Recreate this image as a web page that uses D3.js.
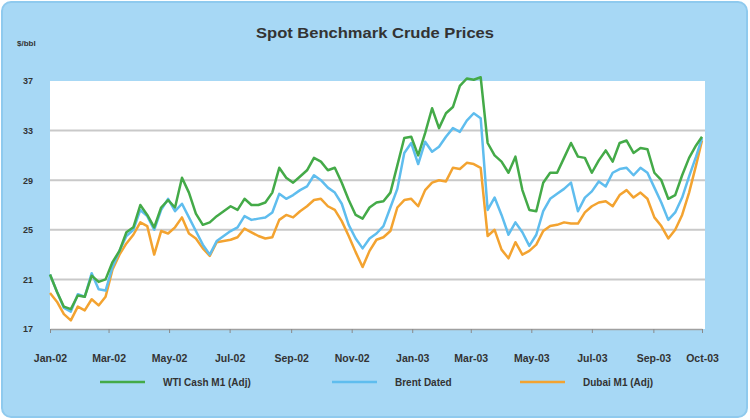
<!DOCTYPE html>
<html><head><meta charset="utf-8">
<script src="https://cdn.jsdelivr.net/npm/d3@7"></script>
<style>body{margin:0;background:#fff}svg{display:block}</style>
</head><body><svg id="c" width="750" height="420"></svg>
<script>
const dates = ["2002-01-01","2002-01-08","2002-01-15","2002-01-22","2002-01-29","2002-02-05","2002-02-12","2002-02-19","2002-02-26","2002-03-05","2002-03-12","2002-03-19","2002-03-26","2002-04-02","2002-04-09","2002-04-16","2002-04-23","2002-04-30","2002-05-07","2002-05-14","2002-05-21","2002-05-28","2002-06-04","2002-06-11","2002-06-18","2002-06-25","2002-07-02","2002-07-09","2002-07-16","2002-07-23","2002-07-30","2002-08-06","2002-08-13","2002-08-20","2002-08-27","2002-09-03","2002-09-10","2002-09-17","2002-09-24","2002-10-01","2002-10-08","2002-10-15","2002-10-22","2002-10-29","2002-11-05","2002-11-12","2002-11-19","2002-11-26","2002-12-03","2002-12-10","2002-12-17","2002-12-24","2002-12-31","2003-01-07","2003-01-14","2003-01-21","2003-01-28","2003-02-04","2003-02-11","2003-02-18","2003-02-25","2003-03-04","2003-03-11","2003-03-18","2003-03-25","2003-04-01","2003-04-08","2003-04-15","2003-04-22","2003-04-29","2003-05-06","2003-05-13","2003-05-20","2003-05-27","2003-06-03","2003-06-10","2003-06-17","2003-06-24","2003-07-01","2003-07-08","2003-07-15","2003-07-22","2003-07-29","2003-08-05","2003-08-12","2003-08-19","2003-08-26","2003-09-02","2003-09-09","2003-09-16","2003-09-23","2003-09-30","2003-10-07","2003-10-14","2003-10-20"];
const wti = [21.4,20.0,18.8,18.6,19.7,19.6,21.3,20.8,21.0,22.4,23.3,24.8,25.2,27.0,26.2,25.2,26.8,27.4,26.8,29.2,28.0,26.3,25.4,25.6,26.1,26.5,26.9,26.6,27.5,27.0,27.0,27.2,28.0,30.0,29.2,28.8,29.3,29.8,30.8,30.5,29.8,30.0,28.8,27.4,26.2,25.9,26.8,27.2,27.3,28.0,30.2,32.4,32.5,31.0,32.8,34.8,33.2,34.4,34.9,36.6,37.2,37.1,37.3,32.0,31.0,30.5,29.6,30.9,28.2,26.6,26.5,28.8,29.6,29.6,30.8,32.0,30.9,30.8,29.6,30.6,31.4,30.5,32.0,32.2,31.2,31.6,31.5,29.6,29.0,27.5,27.8,29.4,30.8,31.8,32.5];
const brent = [21.4,20.0,18.7,18.4,19.8,19.6,21.5,20.2,20.1,22.0,23.3,24.5,25.0,26.6,26.1,25.0,26.6,27.5,26.5,27.1,26.0,24.9,23.8,23.0,24.1,24.5,24.9,25.2,26.1,25.8,25.9,26.0,26.4,27.9,27.5,27.8,28.2,28.5,29.4,29.0,28.4,28.0,27.1,25.4,24.3,23.5,24.3,24.7,25.3,26.8,28.3,31.2,32.0,30.3,32.1,31.3,31.7,32.5,33.2,32.9,33.8,34.4,34.0,26.6,27.6,26.2,24.6,25.6,24.8,23.7,24.6,26.5,27.5,27.9,28.3,28.8,26.5,27.6,28.1,28.9,28.5,29.6,29.9,30.0,29.4,30.0,29.6,28.4,27.2,25.8,26.4,27.6,29.3,30.9,32.4];
const dubai = [19.9,19.2,18.2,17.7,18.8,18.5,19.4,18.9,19.6,21.8,23.0,23.9,24.6,25.6,25.3,23.0,24.9,24.7,25.2,26.0,24.7,24.3,23.5,22.9,24.0,24.1,24.2,24.4,25.1,24.8,24.5,24.3,24.4,25.8,26.2,26.0,26.5,26.9,27.4,27.5,26.9,26.6,25.7,24.5,23.2,22.0,23.3,24.2,24.4,24.9,26.8,27.4,27.5,26.9,28.2,28.8,29.0,28.9,30.0,29.9,30.4,30.3,30.0,24.5,25.0,23.4,22.7,24.0,23.0,23.3,23.8,24.9,25.3,25.4,25.6,25.5,25.5,26.4,26.9,27.2,27.3,26.9,27.8,28.2,27.6,28.0,27.5,26.0,25.3,24.3,25.0,26.2,28.0,30.2,32.2];
const seriesNames = ["WTI Cash M1 (Adj)","Brent Dated","Dubai M1 (Adj)"];
const seriesColors = ["#44aa48","#5fbdee","#f3a330"];
const yTicks = [17,21,25,29,33,37];
const xTickDates = ["2002-01-01","2002-03-01","2002-05-01","2002-07-01","2002-09-01","2002-11-01","2003-01-01","2003-03-01","2003-05-01","2003-07-01","2003-09-01","2003-10-20"];
const xTickLabels = ["Jan-02","Mar-02","May-02","Jul-02","Sep-02","Nov-02","Jan-03","Mar-03","May-03","Jul-03","Sep-03","Oct-03"];

const parse = d3.timeParse("%Y-%m-%d");
const svg = d3.select("#c");
const font = "'Liberation Sans',Arial,sans-serif";

svg.append("rect").attr("x",2).attr("y",2).attr("width",745).attr("height",415).attr("rx",9)
  .attr("fill","#a7d8f5").attr("stroke","#8fcaee").attr("stroke-width",2);

const L=50, R=702, T=81, B=329;
const x = d3.scaleTime().domain([parse(dates[0]), parse(dates[dates.length-1])]).range([L,R]);
const y = d3.scaleLinear().domain([17,37]).range([B,T]);

svg.append("rect").attr("x",L).attr("y",T).attr("width",R-L+3).attr("height",B-T).attr("fill","#fff");

svg.append("g").selectAll("line").data(yTicks.slice(1,-1)).join("line")
  .attr("x1",L).attr("x2",R+3).attr("y1",d=>y(d)).attr("y2",d=>y(d))
  .attr("stroke","#c9c9c9").attr("stroke-width",2);

const xAxis = d3.axisBottom(x).tickValues(xTickDates.map(parse)).tickFormat((d,i)=>xTickLabels[i]).tickSize(4).tickSizeOuter(0);
const gx = svg.append("g").attr("transform",`translate(0,${B})`).call(xAxis);
gx.select(".domain").attr("stroke","#a0a0a0").attr("stroke-width",1.5);
gx.selectAll(".tick line").attr("stroke","#8a8a8a");
gx.selectAll("text").attr("dy",0).attr("y",33).attr("fill","#333").attr("font-size",10.5).attr("font-weight","bold").attr("font-family",font);

const yAxis = d3.axisLeft(y).tickValues(yTicks).tickSize(0).tickPadding(17);
const gy = svg.append("g").attr("transform",`translate(${L},0)`).call(yAxis);
gy.select(".domain").remove();
gy.selectAll("text").attr("fill","#333").attr("font-size",9).attr("font-weight","bold").attr("font-family",font);

const data = [wti, brent, dubai];
const line = d3.line().x((d,i)=>x(parse(dates[i]))).y(d=>y(d));
[2,1,0].forEach(s=>{
  svg.append("path").datum(data[s]).attr("d",line).attr("fill","none")
    .attr("stroke",seriesColors[s]).attr("stroke-width",2.5).attr("stroke-linejoin","round");
});

svg.append("text").attr("x",375).attr("y",38).attr("text-anchor","middle").attr("font-size",15)
  .attr("textLength",238).attr("lengthAdjust","spacingAndGlyphs")
  .attr("font-weight","bold").attr("fill","#333").attr("font-family",font).text("Spot Benchmark Crude Prices");
svg.append("text").attr("x",17).attr("y",46).attr("font-size",8).attr("font-weight","bold").attr("fill","#333").attr("font-family",font).text("$/bbl");

const legX = [100,332,520];
const lg = svg.append("g");
seriesNames.forEach((n,i)=>{
  lg.append("line").attr("x1",legX[i]).attr("x2",legX[i]+45).attr("y1",382).attr("y2",382)
    .attr("stroke",seriesColors[i]).attr("stroke-width",2.5);
  lg.append("text").attr("x",legX[i]+63).attr("y",386).attr("font-size",10).attr("font-weight","bold")
    .attr("fill","#333").attr("font-family",font).text(n);
});
</script></body></html>
